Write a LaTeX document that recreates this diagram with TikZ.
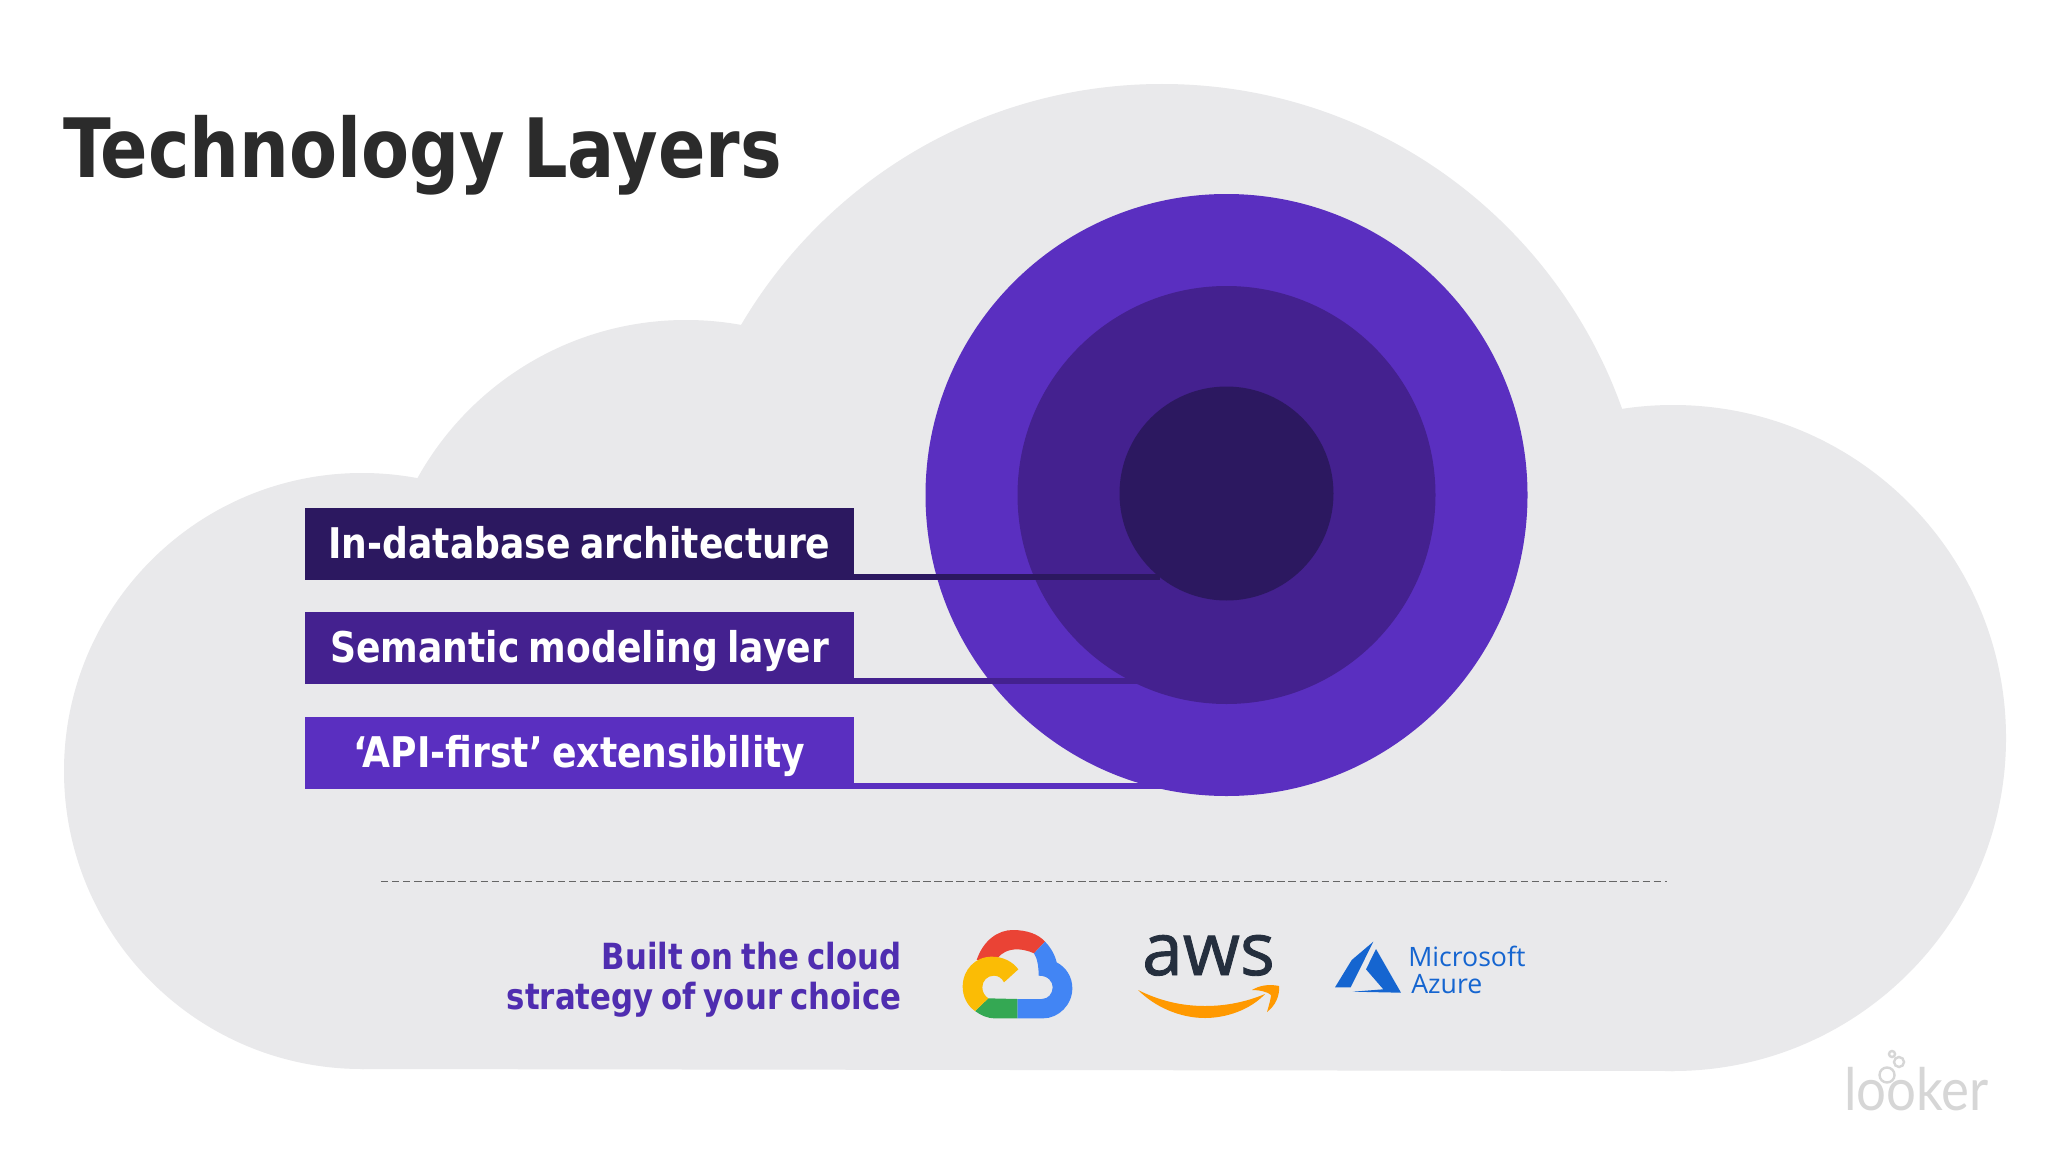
\documentclass[tikz,border=0pt]{standalone}
\usepackage{fontspec}
\setmainfont{DejaVu Sans}
\newfontfamily\condfont[FakeStretch=0.95, WordSpace=0.75]{DejaVu Sans Condensed}
\newfontfamily\logofont{Open Sans}
\newfontfamily\awsfont[FakeBold=1.2]{Open Sans}
\newfontfamily\lookfont[FakeStretch=0.9]{Lato}
\usetikzlibrary{calc, positioning}
\definecolor{cloudgray}{HTML}{E9E9EB}
\definecolor{titlegray}{HTML}{2B2B2B}
\definecolor{layerouter}{HTML}{5A2FC0}
\definecolor{layermid}{HTML}{44218F}
\definecolor{layerinner}{HTML}{2C1860}
\definecolor{strategyblue}{HTML}{4F2DB0}
\definecolor{dashgray}{HTML}{666666}
\definecolor{gred}{HTML}{EA4335}
\definecolor{gblue}{HTML}{4285F4}
\definecolor{ggreen}{HTML}{34A853}
\definecolor{gyellow}{HTML}{FBBC05}
\definecolor{awsdark}{HTML}{252F3E}
\definecolor{awsorange}{HTML}{FF9900}
\definecolor{azureblue}{HTML}{1565D0}
\definecolor{lookergray}{HTML}{D6D6D6}
\tikzset{
  barbox/.style={minimum width=411.75pt, minimum height=54pt, inner sep=0pt, outer sep=0pt, text height=24pt, text depth=2pt, text=white, font=\condfont\fontsize{31.7pt}{36pt}\selectfont\bfseries},
  leader/.style={line width=4.5pt},
  bubble/.style={draw=lookergray, line width=1.8pt}
}
\begin{document}
\begin{tikzpicture}[x=0.75pt, y=-0.75pt]
\useasboundingbox (0,0) rectangle (2048,1152);
\fill[white] (0,0) rectangle (2048,1152);

% Cloud from four lobes and a body
\foreach \cx/\cy/\rr in {362/771/298, 686/627/307, 1162/572/488, 1673/738/333} {
    \fill[cloudgray] (\cx,\cy) circle (\rr);
}
\fill[cloudgray] (362,771) -- (362,1069) -- (1673,1071) -- (1673,738) -- (1162,500) -- (686,627) -- cycle;

% Title
\node[anchor=base west, inner sep=0pt, text=titlegray, font=\condfont\fontsize{61.4pt}{68pt}\selectfont\bfseries] (title) at (63,177) {Technology Layers};

% Layer circles
\fill[layerouter] (1226.5,495) circle (301);
\fill[layermid] (1226.5,495) circle (209);
\fill[layerinner] (1226.5,493.5) circle (107);

% Label bars and their leader lines
\foreach \nm/\yy/\col/\xend/\txt in {one/543.5/layerinner/1160/In-database architecture, two/648/layermid/1137/Semantic modeling layer, three/753/layerouter/1161/‘API-first’ extensibility} {
    \node[barbox, fill=\col] (bar\nm) at (579.5,\yy) {\txt};
    \coordinate (end\nm) at (\xend,\yy+33);
    \draw[leader, \col] (bar\nm.east |- end\nm) -- (end\nm);
}

% Dashed rule
\coordinate (ruleleft) at (381,881.5);
\coordinate (ruleright) at (1667,881.5);
\draw[dashgray, dash pattern=on 5.5pt off 2.8pt, line width=1.3pt] (ruleleft) -- (ruleright);

% Strategy text
\node[anchor=east, align=right, inner sep=0pt, text=strategyblue, font=\condfont\fontsize{27pt}{30pt}\selectfont\bfseries] (strategy) at (901.5,979.5) {Built on the cloud\\strategy of your choice};

% Google Cloud logo
\begin{scope}[shift={(940,910)}, x=0.25pt, y=-0.25pt]
\fill[gred] (110,150) .. controls (130,90) and (175,60) .. (218,60) .. controls (260,60) and (295,72) .. (315,95) -- (282,130) .. controls (265,122) and (245,118) .. (232,118) .. controls (205,118) and (185,128) .. (172,145) -- cycle;
\fill[gblue] (315,95) .. controls (332,112) and (345,135) .. (350,157) .. controls (378,172) and (397,200) .. (397,235) .. controls (397,285) and (355,325) .. (310,325) -- (232,325) -- (232,267) -- (305,267) .. controls (325,267) and (338,250) .. (338,232) .. controls (338,215) and (325,197) .. (296,197) .. controls (296,170) and (292,145) .. (282,130) -- cycle;
\fill[ggreen] (232,267) -- (232,325) -- (165,325) .. controls (140,325) and (122,315) .. (105,303) -- (145,265) -- cycle;
\fill[gyellow] (235,178) .. controls (218,155) and (190,140) .. (155,140) .. controls (105,140) and (68,180) .. (68,230) .. controls (68,260) and (82,287) .. (105,303) -- (145,265) .. controls (135,258) and (127,247) .. (127,232) .. controls (127,212) and (142,197) .. (162,197) .. controls (175,197) and (186,205) .. (192,217) -- cycle;
\end{scope}

% AWS logo
\node[anchor=base, inner sep=0pt, text=awsdark, font=\awsfont\fontsize{55pt}{60pt}\selectfont] (awstext) at (1208.5,975) {aws};
\fill[awsorange] (1138,990) .. controls (1160,1001) and (1182,1006) .. (1205,1006) .. controls (1226,1006) and (1246,1002) .. (1265,994) .. controls (1250,1010) and (1226,1018) .. (1205,1018) .. controls (1180,1018) and (1155,1007) .. (1138,990) -- cycle;
\fill[awsorange] (1252,990) .. controls (1260,985) and (1270,984) .. (1279,986) .. controls (1280,996) and (1275,1006) .. (1267,1012) .. controls (1269,1005) and (1271,998) .. (1271,995) .. controls (1268,992) and (1260,990) .. (1252,990) -- cycle;

% Azure logo
\fill[azureblue] (1373.3,941.7) -- (1351.7,960) -- (1335,987.3) -- (1350.7,987.3) -- cycle;
\fill[azureblue] (1376,949) -- (1366,969.3) -- (1383.3,989.3) -- (1352.7,991.7) -- (1401,992.7) -- cycle;
\node[anchor=base west, inner sep=0pt, text=azureblue, font=\logofont\fontsize{20pt}{24pt}\selectfont] (microsoft) at (1408,966) {Microsoft};
\node[anchor=base west, inner sep=0pt, text=azureblue, font=\logofont\fontsize{20pt}{24pt}\selectfont] (azure) at (1411,993) {Azure};

% Looker mark
\node[anchor=base west, inner sep=0pt, text=lookergray, font=\lookfont\fontsize{44pt}{50pt}\selectfont] (looker) at (1844,1110) {looker};
\draw[bubble] (1887,1075) circle (7.5);
\draw[bubble] (1899,1062) circle (5);
\draw[bubble] (1892,1054) circle (3);
\end{tikzpicture}
\end{document}
